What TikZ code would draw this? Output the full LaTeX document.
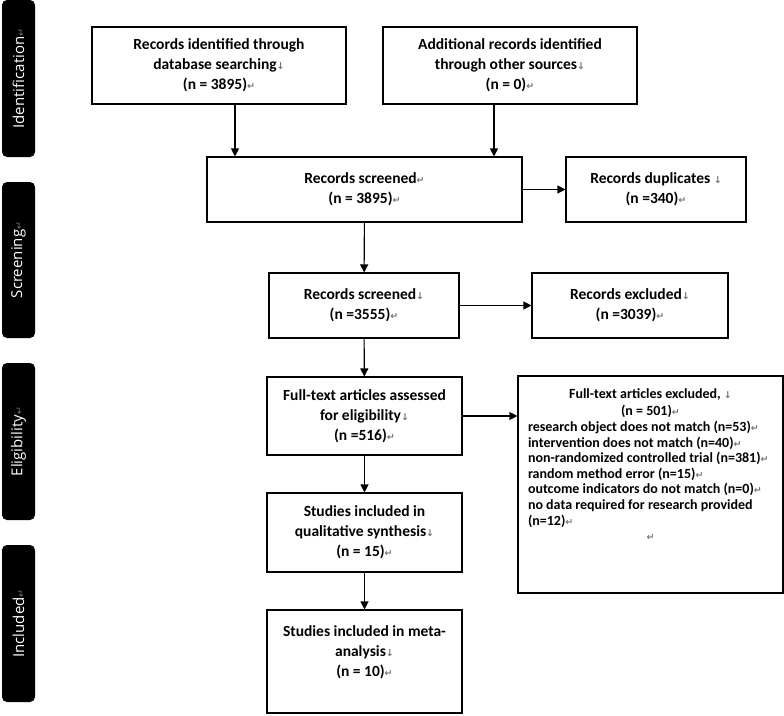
\documentclass[tikz,border=0pt]{standalone}
\usepackage{fontspec}
\setmainfont{Carlito}
\newfontfamily\sidefont{Open Sans}
\newfontfamily\markfont{DejaVu Sans}
\usetikzlibrary{arrows.meta}
% Word paragraph / line marks
\newcommand\retmark{{\fontsize{9.5}{9.5}\markfont\color{black!55}↵}}
\newcommand\downmark{{\fontsize{9.5}{9.5}\markfont\color{black!55}↓}}
\tikzset{
  box/.style={draw, line width=1.1pt, align=center, inner sep=0pt,
    font=\bfseries\fontsize{15.5}{20}\selectfont},
  stage/.style={fill=black, rounded corners=5pt, rotate=90, inner sep=0pt,
    minimum height=33pt, text=white, font=\sidefont\fontsize{15}{17}\selectfont},
  arr/.style={-{Triangle[length=8pt,width=8pt]}, line width=1.1pt}
}
\begin{document}
\begin{tikzpicture}[x=1pt, y=-1pt]
\useasboundingbox (0,0) rectangle (784,715);

%stages
\foreach \n/\y/\len/\t in {id/78.5/157/Identification, scr/260/156/Screening,
  eli/441.5/157/Eligibility, inc/623.5/157/Included}
{ \node[stage, minimum width=\len] (\n) at (18.5,\y) {\t\retmark}; }

%identification
\node[box, minimum width=254, minimum height=77] (db) at (219,65.5)
  {Records identified through\\database searching\downmark\\(n = 3895)\retmark};
\node[box, minimum width=254, minimum height=77] (other) at (510,65.5)
  {Additional records identified\\through other sources\downmark\\(n = 0)\retmark};

%screening
\node[box, minimum width=315, minimum height=65] (scr1) at (364.5,189.5)
  {Records screened\retmark\\(n = 3895)\retmark};
\node[box, minimum width=180, minimum height=65] (dup) at (656,189.5)
  {Records duplicates \downmark\\(n =340)\retmark};
\node[box, minimum width=190, minimum height=65] (scr2) at (364,305.5)
  {Records screened\downmark\\(n =3555)\retmark};
\node[box, minimum width=196, minimum height=65] (excl) at (630,305.5)
  {Records excluded\downmark\\(n =3039)\retmark};

%eligibility
\node[box, minimum width=195, minimum height=78] (full) at (364.5,416)
  {Full-text articles assessed\\for eligibility\downmark\\(n =516)\retmark};
\node[draw, line width=1.1pt, inner sep=0pt, minimum width=265, minimum height=217,
  font=\bfseries\fontsize{14}{15.6}\selectfont] (fullx) at (650.5,484.5)
  {\parbox[c][217pt][t]{245pt}{\vspace{13pt}
   \centering Full-text articles excluded, \downmark\\[1.5pt](n = 501)\retmark\par
   \raggedright research object does not match (n=53)\retmark\\
   intervention does not match (n=40)\retmark\\
   non-randomized controlled trial (n=381)\retmark\\
   random method error (n=15)\retmark\\
   outcome indicators do not match (n=0)\retmark\\
   no data required for research provided\\
   (n=12)\retmark\par
   \centering\retmark\par}};

%included
\node[box, minimum width=195, minimum height=79] (qual) at (364.5,532.5)
  {Studies included in\\qualitative synthesis\downmark\\(n = 15)\retmark};
\node[box, minimum width=195, minimum height=103] (meta) at (364.5,661.5)
  {Studies included in meta-\\analysis\downmark\\(n = 10)\retmark\\ \mbox{}};

%arrows
\draw[arr] ([xshift=16pt]db.south) -- ([xshift=16pt]db.south |- scr1.north);
\draw[arr] ([xshift=-16pt]other.south) -- ([xshift=-16pt]other.south |- scr1.north);
\draw[arr] (scr1.east) -- (dup.west);
\draw[arr] (scr1) -- (scr2);
\draw[arr] (scr2.east) -- (excl.west);
\draw[arr] (scr2) -- (full);
\draw[arr] (full.east) -- (full.east -| fullx.west);
\draw[arr] (full) -- (qual);
\draw[arr] (qual) -- (meta);
\end{tikzpicture}
\end{document}
